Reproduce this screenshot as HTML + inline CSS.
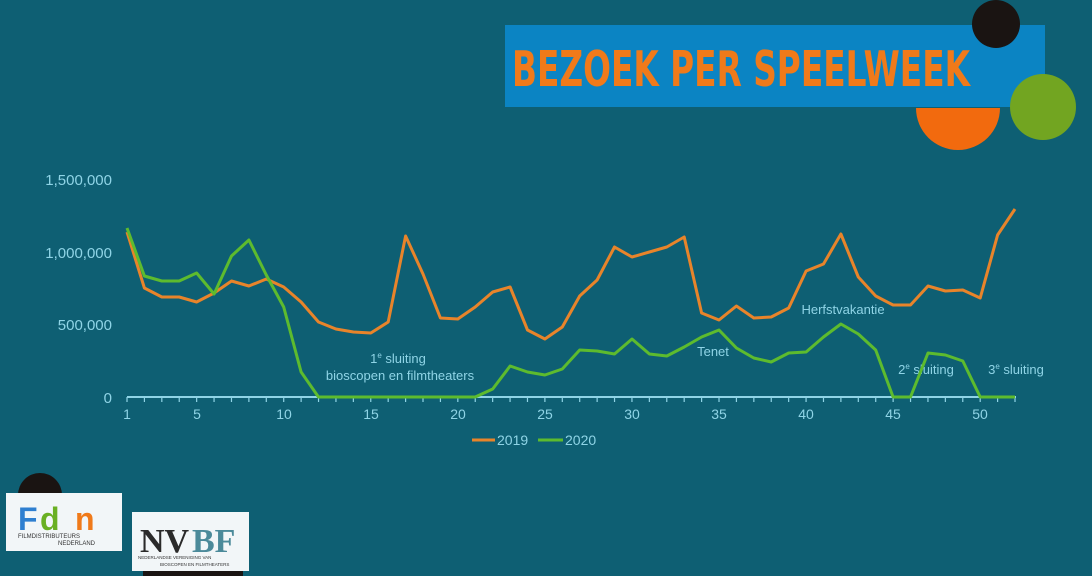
<!DOCTYPE html>
<html><head><meta charset="utf-8"><style>
html,body{margin:0;padding:0;background:#0e5f73;width:1092px;height:576px;overflow:hidden}
svg{display:block;font-family:"Liberation Sans",sans-serif}
</style></head><body>
<svg width="1092" height="576" viewBox="0 0 1092 576">
<rect width="1092" height="576" fill="#0e5f73"/>
<!-- title -->
<rect x="505" y="25" width="540" height="82" fill="#0b84c3"/>
<path d="M916 108 A42 42 0 0 0 1000 108 Z" fill="#f26a0e"/>
<circle cx="996" cy="24" r="24" fill="#1a1412"/>
<circle cx="1043" cy="107" r="33" fill="#72a521"/>
<text x="512" y="86" font-size="49" font-weight="bold" fill="#f07a1a" textLength="458" lengthAdjust="spacingAndGlyphs" style="font-family:'DejaVu Sans Condensed','Liberation Sans Narrow',sans-serif">BEZOEK PER SPEELWEEK</text>
<!-- y labels -->
<g fill="#8fd4e6" font-size="15" text-anchor="end">
<text x="112" y="185">1,500,000</text>
<text x="112" y="258">1,000,000</text>
<text x="112" y="330">500,000</text>
<text x="112" y="403">0</text>
</g>
<!-- axis -->
<line x1="127" y1="397" x2="1016" y2="397" stroke="#8fd4e6" stroke-width="2"/>
<g stroke="#8fd4e6" stroke-width="1.2" id="ticks"></g>
<g fill="#8fd4e6" font-size="14" text-anchor="middle">
<text x="127" y="419">1</text><text x="197" y="419">5</text><text x="284" y="419">10</text><text x="371" y="419">15</text><text x="458" y="419">20</text><text x="545" y="419">25</text><text x="632" y="419">30</text><text x="719" y="419">35</text><text x="806" y="419">40</text><text x="893" y="419">45</text><text x="980" y="419">50</text>
</g>
<!-- annotations -->
<g fill="#8fd4e6" font-size="13" text-anchor="middle">
<text x="398" y="363">1<tspan font-size="8" dy="-5">e</tspan><tspan dy="5"> sluiting</tspan></text>
<text x="400" y="380">bioscopen en filmtheaters</text>
<text x="713" y="356">Tenet</text>
<text x="843" y="314">Herfstvakantie</text>
<text x="926" y="374">2<tspan font-size="8" dy="-5">e</tspan><tspan dy="5"> sluiting</tspan></text>
<text x="1016" y="374">3<tspan font-size="8" dy="-5">e</tspan><tspan dy="5"> sluiting</tspan></text>
</g>
<!-- series -->
<polyline fill="none" stroke="#e8842a" stroke-width="3" stroke-linejoin="round" points="127,232 144.4,288 161.8,297 179.2,297 196.6,302 214.1,293 231.5,281 248.9,286 266.3,279 283.7,287 301.1,302 318.5,322 335.9,329 353.4,332 370.8,333 388.2,322 405.6,236 423,274 440.4,318 457.8,319 475.2,307 492.7,292 510.1,287 527.5,330 544.9,339 562.3,327 579.7,296 597.1,280 614.5,247 632,257 649.4,252 666.8,247 684.2,237 701.6,313 719,320 736.4,306 753.8,318 771.2,317 788.7,308 806.1,271 823.5,264 840.9,234 858.3,277 875.7,296 893.1,305 910.5,305 928,286 945.4,291 962.8,290 980.2,298 997.6,235 1015,209"/>
<polyline fill="none" stroke="#5dbb2e" stroke-width="3" stroke-linejoin="round" points="127,228 144.4,276 161.8,281 179.2,281 196.6,273 214.1,294 231.5,256 248.9,240 266.3,275 283.7,307 301.1,372 318.5,397 475.2,397 492.7,389 510.1,366 527.5,372 544.9,375 562.3,369 579.7,350 597.1,351 614.5,354 632,339 649.4,354 666.8,356 684.2,347 701.6,337 719,330 736.4,348 753.8,358 771.2,362 788.7,353 806.1,352 823.5,337 840.9,324 858.3,334 875.7,350 893.1,397 910.5,397 928,353 945.4,355 962.8,361 980.2,397 1015,397"/>
<!-- legend -->
<line x1="472" y1="440" x2="495" y2="440" stroke="#e8842a" stroke-width="3"/>
<text x="497" y="445" fill="#8fd4e6" font-size="14">2019</text>
<line x1="538" y1="440" x2="563" y2="440" stroke="#5dbb2e" stroke-width="3"/>
<text x="565" y="445" fill="#8fd4e6" font-size="14">2020</text>
<!-- logos -->
<circle cx="40" cy="495" r="22" fill="#1a1412"/>
<rect x="6" y="493" width="116" height="58" fill="#f2f6f8"/>
<text x="18" y="530" font-size="32" font-weight="bold" fill="#2f7fd0">F</text>
<text x="40" y="530" font-size="32" font-weight="bold" fill="#6ab023">d</text>
<text x="75" y="530" font-size="32" font-weight="bold" fill="#f07a1a">n</text>
<text x="18" y="538" font-size="6" fill="#333">FILMDISTRIBUTEURS</text>
<text x="58" y="545" font-size="6" fill="#333">NEDERLAND</text>
<rect x="143" y="560" width="100" height="16" fill="#1a1412"/>
<rect x="132" y="512" width="117" height="59" fill="#f2f6f8"/>
<text x="140" y="552" font-size="34" font-family="Liberation Serif" font-weight="bold" fill="#2a2a2a">NV</text>
<text x="192" y="552" font-size="34" font-family="Liberation Serif" font-weight="bold" fill="#4b8a9a">BF</text>
<text x="138" y="559" font-size="4.5" fill="#333">NEDERLANDSE VERENIGING VAN</text>
<text x="160" y="566" font-size="4.5" fill="#333">BIOSCOPEN EN FILMTHEATERS</text>
</svg>
<script>
var g=document.getElementById('ticks');
for(var i=0;i<52;i++){var x=127+i*17.412;var l=document.createElementNS('http://www.w3.org/2000/svg','line');l.setAttribute('x1',x);l.setAttribute('x2',x);l.setAttribute('y1',397);l.setAttribute('y2',402);g.appendChild(l);}
</script>
</body></html>
